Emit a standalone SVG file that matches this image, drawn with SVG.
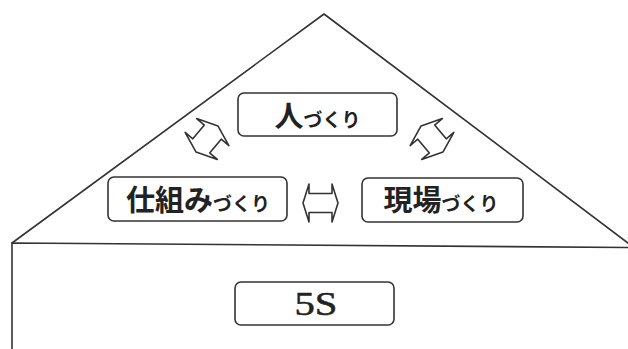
<svg xmlns="http://www.w3.org/2000/svg" width="628" height="349" viewBox="0 0 628 349">
<defs>
<style>
.ln{fill:none;stroke:#333;stroke-width:1.6;stroke-linecap:round;stroke-linejoin:round}
.box{fill:#fff;stroke:#333;stroke-width:1.6}
.arr{fill:#fff;stroke:#333;stroke-width:1.6;stroke-linejoin:round}
.jp{font-family:"Noto Sans CJK JP","Noto Sans",sans-serif;font-weight:bold;fill:#222;text-anchor:middle}
.big{font-size:29px}
.sm{font-size:19px}
.en{font-family:"Liberation Serif","Times New Roman",serif;font-size:33px;fill:#222;stroke:#222;stroke-width:0.5;text-anchor:middle}
</style>
<polygon id="dbl" points="-17,0 -9,-21 -9,-11 9,-11 9,-21 17,0 9,21 9,11 -9,11 -9,21"/>
<polygon id="dblh" points="-17.5,0 -11.5,-19 -11.5,-9.5 11.5,-9.5 11.5,-19 17.5,0 11.5,19 11.5,9.5 -11.5,9.5 -11.5,19"/>
</defs>
<rect width="628" height="349" fill="#fff"/>
<g id="frame">
<path class="ln" d="M12,243 L324,14 L628,243"/>
<path class="ln" d="M12,349 L12,243 L628,247.5"/>
</g>
<g id="connectors">
<use href="#dbl" class="arr" transform="translate(207,139) rotate(-50)"/>
<use href="#dbl" class="arr" transform="translate(432,139) rotate(50)"/>
<use href="#dblh" class="arr" transform="translate(320.5,203)"/>
</g>
<g id="hito">
<rect class="box" x="238" y="93" width="159" height="43" rx="6"/>
<text class="jp" x="317.5" y="127"><tspan class="big">人</tspan><tspan class="sm">づくり</tspan></text>
</g>
<g id="shikumi">
<rect class="box" x="108" y="177" width="179" height="44" rx="6"/>
<text class="jp" x="198" y="211"><tspan class="big">仕組み</tspan><tspan class="sm">づくり</tspan></text>
</g>
<g id="genba">
<rect class="box" x="362" y="178" width="161" height="44" rx="6"/>
<text class="jp" x="441" y="211"><tspan class="big">現場</tspan><tspan class="sm">づくり</tspan></text>
</g>
<g id="fiveS">
<rect class="box" x="235" y="282" width="159" height="43" rx="6"/>
<text class="en" x="316" y="315" textLength="43" lengthAdjust="spacingAndGlyphs">5S</text>
</g>
</svg>
